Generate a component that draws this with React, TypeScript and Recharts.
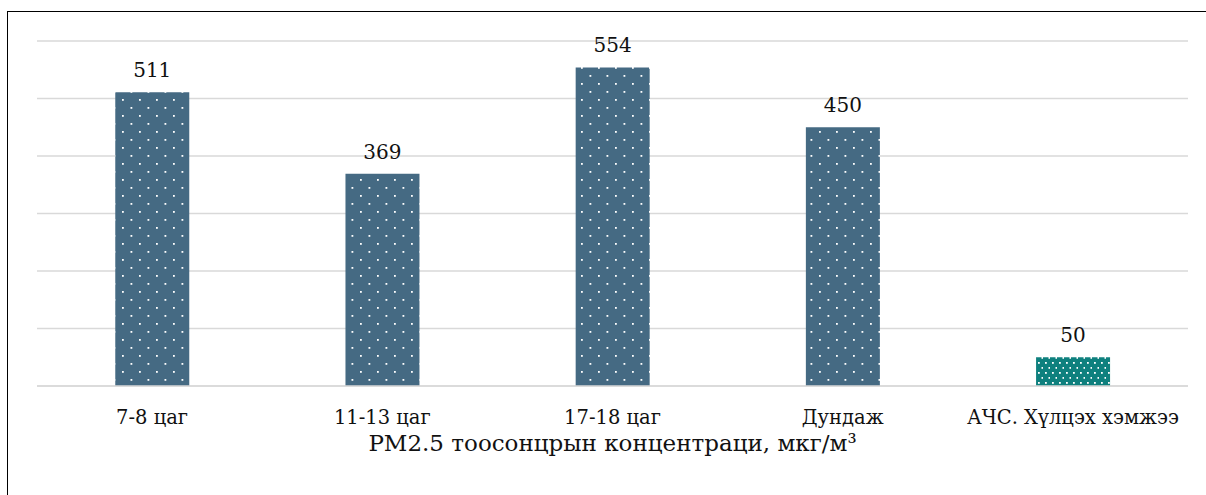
import React from "react";
import { BarChart, Bar, XAxis, YAxis, CartesianGrid, Cell, LabelList } from "recharts";

const categories = ["7-8 цаг", "11-13 цаг", "17-18 цаг", "Дундаж", "АЧС. Хүлцэх хэмжээ"];
const values = [511, 369, 554, 450, 50];
const yTicks = [0, 100, 200, 300, 400, 500, 600];
const axisTitle = "PM2.5 тоосонцрын концентраци, мкг/м³";

const data = categories.map((name, i) => ({ name, value: values[i] }));
const fills = ["url(#dotsBlue)", "url(#dotsBlue)", "url(#dotsBlue)", "url(#dotsBlue)", "url(#dotsTeal)"];

const font = "'DejaVu Serif', serif";

function Patterns() {
  return (
    <svg width={0} height={0} style={{ position: "absolute" }}>
      <defs>
        <pattern id="dotsBlue" patternUnits="userSpaceOnUse" width={17} height={16}>
          <rect width={17} height={16} fill="#456A83" />
          <rect x={3} y={3} width={1.8} height={1.8} fill="#ffffff" />
          <rect x={11.5} y={11} width={1.8} height={1.8} fill="#ffffff" />
        </pattern>
        <pattern id="dotsTeal" patternUnits="userSpaceOnUse" width={7} height={10}>
          <rect width={7} height={10} fill="#0E807E" />
          <rect x={2} y={2} width={1.8} height={1.8} fill="#ffffff" />
          <rect x={5.5} y={7} width={1.8} height={1.8} fill="#ffffff" />
        </pattern>
      </defs>
    </svg>
  );
}

export default function App() {
  return (
    <div style={{ position: "absolute", left: 0, top: 0, width: 1206, height: 495, background: "#fff" }}>
      <Patterns />
      <div
        style={{
          position: "absolute",
          left: 7,
          top: 11,
          width: 1199,
          height: 484,
          borderLeft: "1.5px solid #000",
          borderTop: "1.5px solid #000",
          boxSizing: "border-box",
        }}
      />
      <div style={{ position: "absolute", left: 0, top: 0 }}>
        <BarChart
          width={1206}
          height={495}
          data={data}
          margin={{ top: 41, right: 18, bottom: 39, left: 37 }}
          barCategoryGap="34%"
        >
          <CartesianGrid vertical={false} stroke="#d9d9d9" strokeWidth={1.5} />
          <YAxis hide domain={[0, 600]} ticks={yTicks} />
          <XAxis
            dataKey="name"
            height={70}
            axisLine={{ stroke: "#d9d9d9", strokeWidth: 1.5 }}
            tickLine={false}
            tickMargin={18}
            tick={{ fill: "#111", fontSize: 19.5, fontFamily: font }}
            interval={0}
            label={{
              value: axisTitle,
              position: "insideBottom",
              offset: 5,
              fill: "#111",
              fontSize: 23,
              fontFamily: font,
            }}
          />
          <Bar dataKey="value" isAnimationActive={false}>
            {data.map((d, i) => (
              <Cell key={d.name} fill={fills[i]} />
            ))}
            <LabelList
              dataKey="value"
              position="top"
              offset={15}
              fill="#111"
              fontSize={20}
              fontFamily={font}
            />
          </Bar>
        </BarChart>
      </div>
    </div>
  );
}
